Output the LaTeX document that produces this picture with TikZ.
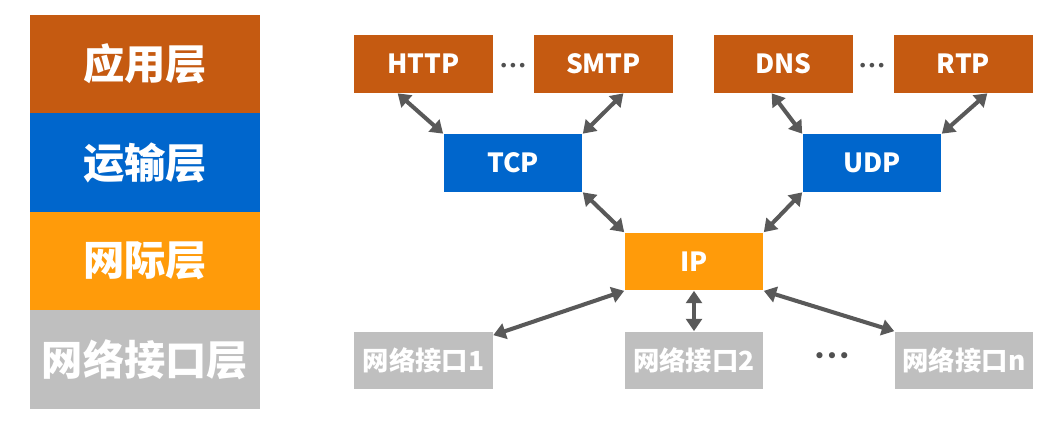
\documentclass[tikz,border=0pt]{standalone}
\usepackage{fontspec}
\newfontfamily\cjk{Noto Sans CJK SC}
\newfontfamily\symfont{DejaVu Sans}
\usetikzlibrary{arrows.meta}

\definecolor{appbrown}{RGB}{197,90,17}
\definecolor{tpblue}{RGB}{0,102,204}
\definecolor{iporange}{RGB}{255,155,10}
\definecolor{ifgray}{RGB}{191,191,191}
\definecolor{arrowgray}{RGB}{89,89,89}

\begin{document}
\begin{tikzpicture}[
      x=0.02cm, y=-0.02cm,
      >={Triangle[length=7pt, width=9pt]},
      layerbox/.style={fill=#1, text=white, minimum width=4.6cm, minimum height=1.97cm, inner sep=0pt, font=\cjk\bfseries\fontsize{23.5}{26}\selectfont},
      protobox/.style={fill=#1, text=white, minimum width=2.78cm, minimum height=1.16cm, inner sep=0pt, font=\cjk\bfseries\fontsize{15}{18}\selectfont},
      link/.style={<->, line width=2.3pt, draw=arrowgray},
      dotsnode/.style={text=arrowgray!90!black, inner sep=0pt, font=\symfont\fontsize{#1}{#1}\selectfont},
  ]

  % Canvas
  \fill[white] (0,0) rectangle (1058,429);
  \useasboundingbox (0,0) rectangle (1058,429);

  % --- Layer column ---
  \node[layerbox=appbrown] (app) at (145, 64) {应用层};
  \node[layerbox=tpblue] (trans) at (145, 162.5) {运输层};
  \node[layerbox=iporange] (inet) at (145, 261) {网际层};
  \node[layerbox=ifgray] (link) at (145, 359.5) {网络接口层};

  % --- Application protocols ---
  \node[protobox=appbrown] (http) at (423.5, 64) {HTTP};
  \node[protobox=appbrown] (smtp) at (603.5, 64) {SMTP};
  \node[protobox=appbrown] (dns) at (783.5, 64) {DNS};
  \node[protobox=appbrown] (rtp) at (963.5, 64) {RTP};
  \node[dotsnode=9] (dotsa) at (513, 67) {•••};
  \node[dotsnode=9] (dotsb) at (872, 67) {•••};

  % --- Transport protocols ---
  \node[protobox=tpblue] (tcp) at (513, 163) {TCP};
  \node[protobox=tpblue] (udp) at (872, 163) {UDP};

  % --- Internet ---
  \node[protobox=iporange] (ip) at (694, 261.5) {IP};

  % --- Network interfaces ---
  \node[protobox=ifgray] (ifa) at (423.5, 360.5) {网络接口1};
  \node[protobox=ifgray] (ifb) at (694, 360.5) {网络接口2};
  \node[protobox=ifgray] (ifn) at (964, 360.5) {网络接口n};
  \node[dotsnode=12] (dotsc) at (832, 358) {•••};

  % --- Application to transport ---
  \draw[link] ([xshift=0.88cm]http.south west) -- (tcp.north west);
  \draw[link] ([xshift=-1cm]smtp.south east) -- (tcp.north east);
  \draw[link] ([xshift=1.16cm]dns.south west) -- (udp.north west);
  \draw[link] ([xshift=-0.92cm]rtp.south east) -- (udp.north east);

  % --- Transport to IP ---
  \draw[link] (tcp.south east) -- (ip.north west);
  \draw[link] (udp.south west) -- (ip.north east);

  % --- IP to interfaces ---
  \draw[link] (ip.south west) -- ([yshift=-0.08cm]ifa.north east);
  \draw[link] (ip.south) -- (ifb.north);
  \draw[link] (ip.south east) -- (ifn.north west);

\end{tikzpicture}
\end{document}
